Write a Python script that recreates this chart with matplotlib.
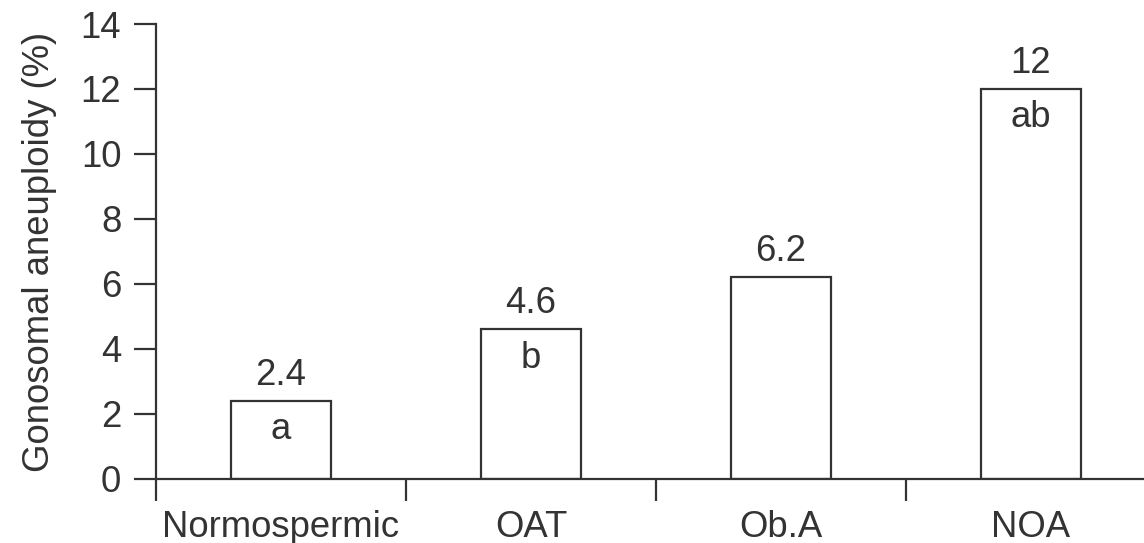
import matplotlib
matplotlib.use("Agg")
import matplotlib.pyplot as plt
from matplotlib.ticker import FixedLocator

# gonosomal aneuploidy per patient group
groups = ["Normospermic", "OAT", "Ob.A", "NOA"]
values = [2.4, 4.6, 6.2, 12]
letters = ["a", "b", "", "ab"]
y_ticks = [0, 2, 4, 6, 8, 10, 12, 14]

ink = "#333333"
plt.rcParams["font.family"] = ["Liberation Sans", "DejaVu Sans"]
plt.rcParams["font.size"] = 26.3

fig = plt.figure(figsize=(11.44, 5.43), dpi=100)
ax = fig.add_axes([0.1364, 0.1179, 0.8636, 0.8379])

x = list(range(len(groups)))
ax.bar(x, values, width=0.4, facecolor="white", edgecolor=ink, linewidth=1.6, zorder=2)

for xi, v, lt in zip(x, values, letters):
    ax.annotate(f"{v:g}", (xi, v), xytext=(0, 6), textcoords="offset points",
                ha="center", va="bottom", color=ink)
    if lt:
        ax.annotate(lt, (xi, v), xytext=(0, -8), textcoords="offset points",
                    ha="center", va="top", color=ink)

ax.set_xlim(-0.5, 3.452)
ax.set_ylim(0, 14)
ax.set_yticks(y_ticks)

# boundary ticks without labels, group names centred under bars
ax.xaxis.set_major_locator(FixedLocator([-0.5, 0.5, 1.5, 2.5, 3.5]))
ax.xaxis.set_major_formatter(plt.NullFormatter())
ax.xaxis.set_minor_locator(FixedLocator(x))
ax.set_xticklabels(groups, minor=True)
ax.tick_params(axis="x", which="minor", length=0, pad=22, colors=ink, labelcolor=ink)
ax.tick_params(axis="x", which="major", length=16, width=1.6, direction="out", color=ink)
ax.tick_params(axis="y", length=16, width=1.6, direction="out", pad=9, color=ink, labelcolor=ink)

for side in ["top", "right"]:
    ax.spines[side].set_visible(False)
for side in ["left", "bottom"]:
    ax.spines[side].set_linewidth(1.6)
    ax.spines[side].set_color(ink)

ax.set_ylabel("Gonosomal aneuploidy (%)", color=ink, labelpad=17)

fig.savefig("out.png", dpi=100)
